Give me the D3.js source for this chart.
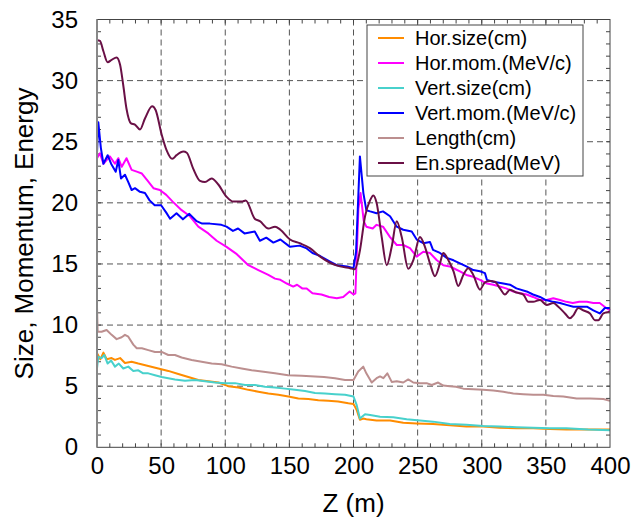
<!DOCTYPE html>
<html>
<head>
<meta charset="utf-8">
<script src="https://cdn.jsdelivr.net/npm/d3@7"></script>
<style>
body { margin: 0; background: #fff; }
text { font-family: "Liberation Sans", Arial, sans-serif; fill: #000; }
</style>
</head>
<body>
<div id="viz"></div>
<script>
var width = 635, height = 519;
var margin = {left: 97, right: 25, top: 19.5, bottom: 71.7};

// series data: [z (m), value]
var horSize = [[0,7.7],[2.6,7.2],[5,7.75],[7.6,7.2],[11.4,7.3],[14,7.15],[18,7.3],[21.8,6.9],[27,7.0],[32.2,6.85],[40,6.65],[47.8,6.45],[55.6,6.25],[63.4,6.0],[71.2,5.75],[79,5.5],[86.8,5.4],[94.6,5.3],[102.4,5.0],[110.2,4.9],[118,4.7],[125.8,4.55],[133.6,4.4],[141.4,4.3],[149.2,4.15],[157,4.0],[164.8,3.95],[172.6,3.85],[180.3,3.8],[188,3.75],[196,3.6],[200,3.55],[202.5,3.05],[205,2.25],[207.6,2.35],[210,2.3],[218,2.2],[228.5,2.2],[238.8,2.0],[249.3,1.95],[262,1.9],[275.2,1.8],[288,1.7],[301,1.7],[314,1.6],[327,1.55],[340,1.55],[353,1.5],[366,1.45],[383,1.45],[400,1.45]];

var horMom = [[0,23.65],[2.3,24.05],[5,23.2],[10,23.8],[14,23.2],[16.6,23.65],[19.3,22.95],[23,23.65],[27,22.7],[31,22.55],[35,22.4],[38.8,21.9],[44,21.2],[49,21.05],[54,20.65],[59,20.1],[66,19.4],[72.5,18.9],[79,18.05],[86.8,17.5],[93.3,16.9],[101,16.4],[109,15.8],[118,14.9],[125.8,14.5],[133.6,14.1],[138.8,13.8],[143,13.7],[148,13.4],[153,13.15],[156,13.3],[160,13.0],[163.5,13.0],[168,12.6],[175,12.5],[181,12.3],[187,12.2],[192,12.3],[197,12.75],[200,12.5],[201.5,12.6],[203.8,19.5],[205.5,20.8],[208,18.5],[210,18.05],[215,17.9],[218,18.2],[223,18.05],[228.5,17.2],[233.7,16.55],[238.8,16.55],[244,16.3],[249.3,15.6],[254.4,16.0],[259.6,15.9],[265,15.3],[270,14.9],[275,14.8],[278,14.65],[283,14.4],[288,14.1],[293.4,13.95],[298.6,13.7],[304,13.4],[309,13.3],[314,13.15],[319,13.0],[324.6,12.75],[330,12.6],[335,12.5],[340,12.3],[345.4,12.05],[350.6,12.05],[355.8,12.2],[361,12.05],[366,11.9],[371,11.8],[376,11.9],[382,11.9],[387,11.8],[392,11.8],[397,11.4],[400,11.2]];

var vertSize = [[0,6.45],[1,7.4],[3.6,7.3],[5.7,7.55],[8.3,6.85],[11,7.1],[14,6.6],[17,6.85],[20.5,6.45],[24.4,6.6],[28.3,6.25],[32.2,6.3],[36,6.05],[40,6.05],[45.2,5.9],[50.4,5.75],[55.6,5.65],[60.8,5.55],[68.6,5.45],[76.4,5.5],[84.2,5.4],[92,5.3],[99.8,5.25],[107.6,5.25],[115.4,5.1],[123.2,5.1],[131,4.95],[138.8,4.9],[146.6,4.8],[154.4,4.7],[162.2,4.6],[170,4.45],[177.8,4.4],[185.6,4.35],[193.4,4.3],[200,4.15],[202.5,3.45],[205,2.35],[209,2.7],[213,2.65],[220.7,2.5],[231,2.45],[241.5,2.3],[251.8,2.2],[262,2.1],[275,1.9],[288,1.85],[301,1.75],[314,1.7],[327,1.65],[340,1.6],[353,1.55],[366,1.55],[383,1.45],[400,1.4]];

var vertMom = [[0,24.05],[1,26.6],[3,24.5],[5,23.2],[8.3,23.9],[11,23.2],[14.6,22.55],[16.6,23.5],[18.7,22.0],[21.8,22.3],[24.4,21.7],[27,21.05],[29.6,21.2],[33.5,20.9],[37.4,20.8],[41,20.2],[45,19.8],[50,19.8],[54,19.2],[57,18.7],[62,19.15],[67,18.65],[72,19.1],[77.7,18.5],[82,18.3],[88,18.3],[97,18.2],[101,18.05],[106,17.7],[110,17.9],[115,17.5],[123,17.65],[127,16.9],[132,17.15],[137.5,16.75],[143,17.0],[150.5,16.4],[158,16.5],[163,16.3],[168,15.9],[174,15.65],[181.7,15.2],[187,14.9],[195,14.8],[200,14.65],[202,16],[205,23.8],[207.7,20.8],[210,19.4],[213,19.3],[218,19.15],[223,19.3],[228.5,18.9],[233.7,18.05],[238.8,17.8],[245.4,17.65],[249.3,17.0],[254.4,16.7],[259.6,16.8],[262,16.15],[267.4,15.9],[272.7,15.5],[278,15.3],[283,15.05],[288,14.8],[293.4,14.5],[298.6,14.4],[302.5,14.25],[304,13.7],[309,13.55],[316.8,13.4],[322,13.3],[327,13.0],[335,12.75],[340,12.5],[345.4,12.3],[350,12.05],[355.8,11.9],[361,11.8],[366,11.65],[371.4,11.5],[376,11.5],[382,11.5],[387,11.2],[392,10.95],[396,11.4],[400,11.4]];

var lengthCm = [[0,11.5],[0.5,9.45],[3.6,9.45],[7.5,9.6],[11.4,9.2],[15.3,8.85],[19.2,9.0],[21.8,9.2],[24.4,9.05],[28.3,8.4],[31,8.1],[35,8.1],[40,7.95],[45.2,7.8],[50.4,7.8],[55.6,7.55],[60.8,7.55],[66,7.35],[73.8,7.15],[81.6,7.0],[89.4,6.85],[97.2,6.8],[105,6.6],[112.8,6.45],[120.6,6.3],[128.4,6.2],[138.8,6.05],[149,5.9],[159.6,5.85],[170,5.8],[177,5.75],[185.6,5.65],[193.4,5.5],[200,5.5],[203.7,6.2],[207.6,6.6],[210,6.05],[214.2,5.3],[218,5.65],[220.7,5.8],[223.3,5.65],[226.4,6.05],[229.8,5.35],[233.7,5.4],[238.8,5.3],[242.7,5.55],[246.6,5.3],[251.8,5.25],[257,5.25],[261,5.1],[266,5.3],[270,5.05],[275.2,5.0],[280,4.95],[285.6,4.8],[293.4,4.75],[301.2,4.7],[309,4.65],[316.8,4.55],[324.6,4.4],[332.4,4.35],[340.2,4.3],[348,4.3],[355.8,4.2],[363.6,4.15],[374,4.0],[384.4,4.0],[394.8,3.95],[400,3.8]];

var enSpread = [[0,33.3],[2.3,33.25],[5,32.4],[8.3,31.5],[11.4,31.7],[15.3,31.9],[18,31.3],[20.5,29.6],[23,27.7],[26.5,26.5],[29.6,26.4],[33.5,26.0],[37.4,26.9],[43,27.9],[45.7,27.6],[50.4,25.6],[54.3,24.3],[58.7,23.6],[62,23.9],[67.3,24.2],[70,24.1],[75,22.8],[80.3,21.8],[84.2,21.7],[89.4,22.0],[94.6,21.5],[101,20.5],[106.3,20.1],[113,20.1],[116,20.2],[123,18.7],[127,18.5],[133.6,17.9],[138.8,18.05],[143,17.8],[150.5,17.0],[158,16.7],[166,16.3],[174,15.6],[181.7,15.1],[189.5,14.8],[197.3,14.65],[201,14.57],[205,16.1],[209,18.9],[212.9,20.2],[215.5,20.6],[218,20.0],[222,17.2],[225.9,14.9],[229.8,16.4],[233.7,18.5],[237.6,17.2],[242.7,14.6],[246.6,15.3],[251.8,17.2],[255.7,16.4],[259.6,15.05],[263.5,14.0],[267.4,15.05],[270,15.9],[274,15.3],[278,14.4],[281.7,13.2],[285.6,14.1],[289.5,14.65],[293.4,14.1],[298.6,12.9],[302.5,13.5],[306.4,13.6],[310.3,13.55],[314.2,13.0],[318.1,12.5],[322,12.9],[327.2,12.65],[332.4,12.5],[336.3,11.9],[340,11.9],[345.4,12.05],[350.6,11.65],[355.8,11.8],[359.7,11.5],[364.9,10.95],[368.8,10.55],[371.4,10.8],[375.3,11.4],[379.2,11.2],[384.4,10.95],[388.3,10.4],[390.9,10.4],[394.8,10.95],[400,11.1]];

var seriesNames = ["Hor.size(cm)", "Hor.mom.(MeV/c)", "Vert.size(cm)", "Vert.mom.(MeV/c)", "Length(cm)", "En.spread(MeV)"];
var seriesData = [horSize, horMom, vertSize, vertMom, lengthCm, enSpread];
var seriesColors = ["#ff8c00", "#ff00ff", "#48d1cc", "#0000ff", "#bc8f8f", "#6a1046"];

var xTicks = [0, 50, 100, 150, 200, 250, 300, 350, 400];
var yTicks = [0, 5, 10, 15, 20, 25, 30, 35];

var w = width - margin.left - margin.right;
var h = height - margin.top - margin.bottom;

var x = d3.scaleLinear().domain([0, 400]).range([0, w]);
var y = d3.scaleLinear().domain([0, 35]).range([h, 0]);

var svg = d3.select("#viz").append("svg")
		.attr("width", width)
		.attr("height", height)
	.append("g")
		.attr("transform", "translate(" + margin.left + "," + margin.top + ")");

// dashed grid
svg.append("g").selectAll("line")
	.data(xTicks.slice(1, -1))
	.enter().append("line")
		.attr("x1", function(d) { return x(d); })
		.attr("x2", function(d) { return x(d); })
		.attr("y1", 0).attr("y2", h)
		.attr("stroke", "#555").attr("stroke-dasharray", "6,4");

svg.append("g").selectAll("line")
	.data(yTicks.slice(1, -1))
	.enter().append("line")
		.attr("y1", function(d) { return y(d); })
		.attr("y2", function(d) { return y(d); })
		.attr("x1", 0).attr("x2", w)
		.attr("stroke", "#555").attr("stroke-dasharray", "6,4");

// minor ticks, inward on all four sides
var tl = 4;
var xMinor = d3.range(10, 400, 10);
var yMinor = d3.range(1, 35, 1);
var ticks = svg.append("g").attr("stroke", "#444");
xMinor.forEach(function(d) {
	ticks.append("line").attr("x1", x(d)).attr("x2", x(d)).attr("y1", h).attr("y2", h - tl);
	ticks.append("line").attr("x1", x(d)).attr("x2", x(d)).attr("y1", 0).attr("y2", tl);
});
yMinor.forEach(function(d) {
	ticks.append("line").attr("y1", y(d)).attr("y2", y(d)).attr("x1", 0).attr("x2", tl);
	ticks.append("line").attr("y1", y(d)).attr("y2", y(d)).attr("x1", w).attr("x2", w - tl);
});

// lines (en.spread is a smooth curve in the original)
var line = d3.line()
	.x(function(d) { return x(d[0]); })
	.y(function(d) { return y(d[1]); });
var smoothLine = d3.line()
	.curve(d3.curveMonotoneX)
	.x(function(d) { return x(d[0]); })
	.y(function(d) { return y(d[1]); });

svg.append("g").selectAll("path")
	.data(seriesData)
	.enter().append("path")
		.attr("d", function(d, i) { return i == 5 ? smoothLine(d) : line(d); })
		.attr("fill", "none")
		.attr("stroke", function(d, i) { return seriesColors[i]; })
		.attr("stroke-width", 2)
		.attr("stroke-linejoin", "round");

// frame
svg.append("rect")
	.attr("width", w).attr("height", h)
	.attr("fill", "none").attr("stroke", "#444");
svg.append("line")
	.attr("x1", 0).attr("x2", 0).attr("y1", 0).attr("y2", h)
	.attr("stroke", "#888").attr("stroke-width", 2);

// axes labels
var xAxis = svg.append("g")
	.attr("transform", "translate(0," + h + ")")
	.call(d3.axisBottom(x).tickValues(xTicks).tickSize(0).tickPadding(10));
var yAxis = svg.append("g")
	.call(d3.axisLeft(y).tickValues(yTicks).tickSize(0).tickPadding(19));
[xAxis, yAxis].forEach(function(a) {
	a.select(".domain").remove();
	a.selectAll("text").style("font-size", "24px").attr("font-family", null);
});

svg.append("text")
	.attr("x", w / 2).attr("y", h + 65)
	.attr("text-anchor", "middle")
	.style("font-size", "26px")
	.text("Z (m)");

svg.append("text")
	.attr("transform", "translate(" + (33 - margin.left) + "," + (233.5 - margin.top) + ") rotate(-90)")
	.attr("text-anchor", "middle")
	.style("font-size", "26px")
	.text("Size, Momentum, Energy");

// legend
var legend = svg.append("g")
	.attr("transform", "translate(" + (367 - margin.left) + "," + (25 - margin.top) + ")");
legend.append("rect")
	.attr("width", 216).attr("height", 151)
	.attr("fill", "#fff").attr("stroke", "#444");
var items = legend.selectAll(".item")
	.data(seriesNames)
	.enter().append("g")
		.attr("class", "item")
		.attr("transform", function(d, i) { return "translate(0," + (13 + i * 25) + ")"; });
items.append("line")
	.attr("x1", 11).attr("x2", 37)
	.attr("stroke-width", 2)
	.attr("stroke", function(d, i) { return seriesColors[i]; });
items.append("text")
	.attr("x", 48).attr("dy", "0.36em")
	.style("font-size", "20px")
	.text(function(d) { return d; });
</script>
</body>
</html>
